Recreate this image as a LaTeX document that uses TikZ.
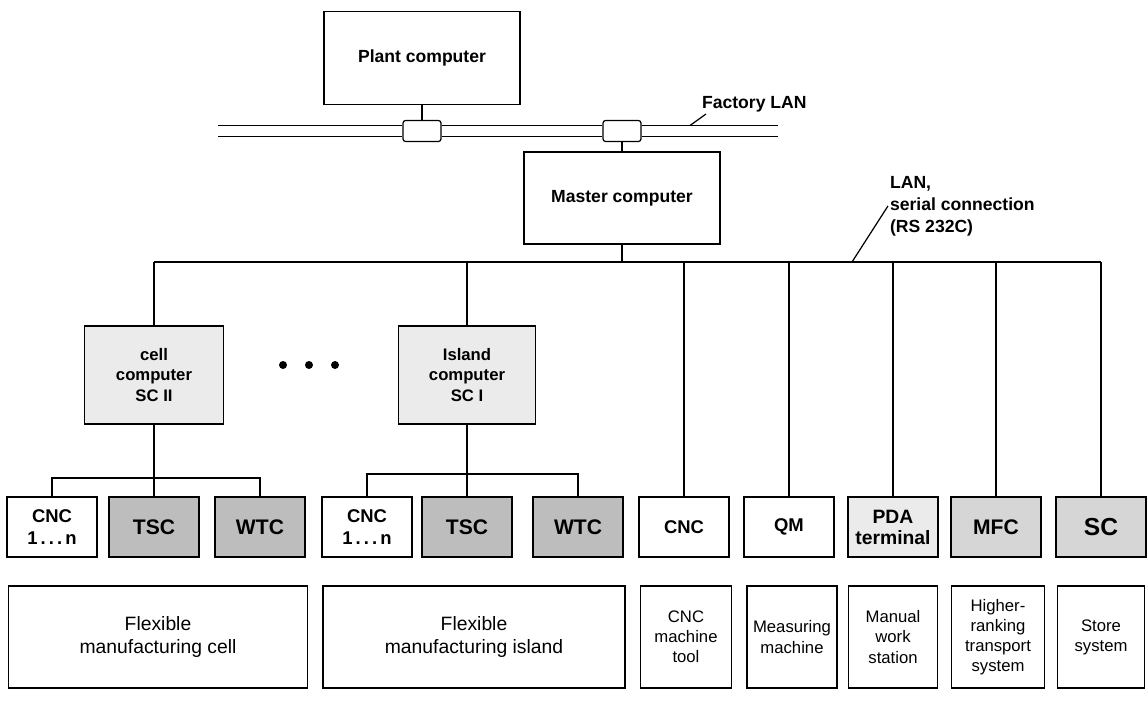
\documentclass[tikz,border=0pt]{standalone}
\usepackage{fontspec}
\setmainfont{Liberation Sans}

\begin{document}
\begin{tikzpicture}[x=0.02cm,y=-0.02cm,
		box/.style={draw, line width=0.9pt, align=center, inner sep=1pt},
		comp/.style={box, font=\bfseries\fontsize{10}{12}\selectfont},
		light/.style={box, fill=gray!16, font=\bfseries\fontsize{9.5}{11.5}\selectfont},
		mid/.style={box, fill=gray!32, font=\bfseries\fontsize{12}{14}\selectfont},
		dark/.style={box, fill=gray!52, font=\bfseries\fontsize{12}{14}\selectfont},
		unit/.style={box, minimum width=1.8cm, minimum height=1.2cm, font=\bfseries\fontsize{10.5}{13}\selectfont},
		area/.style={box, minimum height=2.04cm, font=\fontsize{9.5}{11.5}\selectfont},
		wire/.style={line width=0.7pt},
		junc/.style={draw, line width=0.7pt, rounded corners=1.5pt, fill=white, minimum width=0.76cm, minimum height=0.42cm, inner sep=0pt}
	]
	\useasboundingbox (0,0) rectangle (1147,701);
	%
	% plant level, factory LAN
	\node[comp, minimum width=3.92cm, minimum height=1.86cm] (plant) at (422,58) {Plant computer};
	\node[junc] (jplant) at (422,131) {};
	\node[junc] (jmaster) at (622,131) {};
	\node[comp, minimum width=3.92cm, minimum height=1.84cm] (master) at (622,198) {Master computer};
	\coordinate (lanW) at (218,131);
	\coordinate (lanE) at (778,131);
	\foreach \s in {-0.11cm,0.11cm} {
		\draw[wire] ([yshift=\s]lanW) -- ([yshift=\s]jplant.west);
		\draw[wire] ([yshift=\s]jplant.east) -- ([yshift=\s]jmaster.west);
		\draw[wire] ([yshift=\s]jmaster.east) -- ([yshift=\s]lanE);
	}
	\draw[wire] (plant.south) -- (jplant.north);
	\draw[wire] (jmaster.south) -- (master.north);
	\node[font=\bfseries\fontsize{10}{12}\selectfont, anchor=south west, inner sep=1pt] (flan) at (700,114) {Factory LAN};
	\coordinate (flanpt) at (690,125.5);
	\draw[wire] ([xshift=0.12cm]flan.south west) -- (flanpt);
	%
	% serial bus
	\coordinate (busW) at (154,262);
	\coordinate (busE) at (1101,262);
	\draw[wire] (busW) -- (busE);
	\draw[wire] (master.south) -- (master.south |- busW);
	\node[font=\bfseries\fontsize{10}{12.5}\selectfont, align=left, anchor=north west, inner sep=1pt] (lanlbl) at (888,174) {LAN,\\serial connection\\(RS 232C)};
	\coordinate (lanpt) at (852,262);
	\draw[wire] (lanpt) -- (lanlbl.west);
	%
	% cell and island computers
	\node[light, minimum width=2.78cm, minimum height=1.96cm] (cellc) at (154,375) {cell\\computer\\SC II};
	\node[light, minimum width=2.74cm, minimum height=1.96cm] (islc) at (467,375) {Island\\computer\\SC I};
	\foreach \x in {283,309,335}
		\fill (\x,365) circle (0.08cm);
	%
	% units
	\node[unit] (cnc1) at (52,527) {CNC\\1\,.\,.\,.\,n};
	\node[unit, dark] (tsc1) at (154,527) {TSC};
	\node[unit, dark] (wtc1) at (260,527) {WTC};
	\node[unit] (cnc2) at (367,527) {CNC\\1\,.\,.\,.\,n};
	\node[unit, dark] (tsc2) at (467,527) {TSC};
	\node[unit, dark] (wtc2) at (578,527) {WTC};
	\node[unit] (cnc3) at (684,527) {CNC};
	\node[unit] (qm) at (789,527) {QM};
	\node[unit, light, font=\bfseries\fontsize{11}{12}\selectfont] (pda) at (893,527) {PDA\\terminal};
	\node[unit, mid] (mfc) at (996,527) {MFC};
	\node[unit, mid, font=\bfseries\fontsize{14}{16}\selectfont] (sc) at (1101,527) {SC};
	%
	\foreach \n in {islc,cnc3,qm,pda,mfc,sc}
		\draw[wire] (\n.north |- busW) -- (\n.north);
	\draw[wire] (busW) -- (cellc.north);
	%
	\coordinate (cellbus) at (0,478);
	\coordinate (islbus) at (0,474);
	\draw[wire] (cellc.south) -- (tsc1.north);
	\draw[wire] (cnc1.north) |- (cellbus -| wtc1) -- (wtc1.north);
	\draw[wire] (islc.south) -- (tsc2.north);
	\draw[wire] (cnc2.north) |- (islbus -| wtc2) -- (wtc2.north);
	%
	% manufacturing areas
	\node[area, minimum width=5.98cm, font=\fontsize{11}{13.5}\selectfont] (fmc) at (158,637) {Flexible\\manufacturing cell};
	\node[area, minimum width=6.04cm, font=\fontsize{11}{13.5}\selectfont] (fmi) at (474,637) {Flexible\\manufacturing island};
	\node[area, minimum width=1.82cm] (tool) at (686,637) {CNC\\machine\\tool};
	\node[area, minimum width=1.8cm] (meas) at (792,637) {Measuring\\machine};
	\node[area, minimum width=1.78cm] (manual) at (893,637) {Manual\\work\\station};
	\node[area, minimum width=1.86cm] (trans) at (998,637) {Higher-\\ranking\\transport\\system};
	\node[area, minimum width=1.74cm] (store) at (1101,637) {Store\\system};
\end{tikzpicture}
\end{document}
